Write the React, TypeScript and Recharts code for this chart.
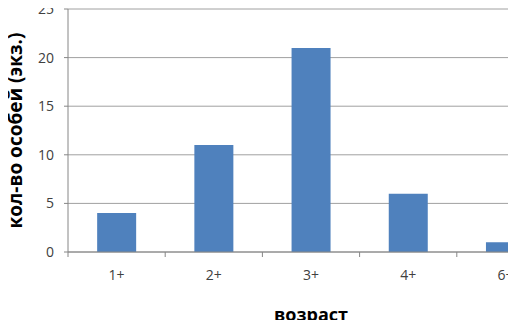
import React from 'react';
import {
  BarChart,
  Bar,
  XAxis,
  YAxis,
  CartesianGrid,
  Label,
} from 'recharts';

const ages = ['1+', '2+', '3+', '4+', '6+'];
const counts = [4, 11, 21, 6, 1];
const yTicks = [0, 5, 10, 15, 20, 25];

const data = ages.map((age, i) => ({ age, count: counts[i] }));

const font = '"Open Sans", "DejaVu Sans", sans-serif';

// category label plus a tick mark on the left boundary of its band (Excel style)
const AgeTick = (props: any) => {
  const { x, y, payload } = props;
  const half = payload.offset || 0;
  return (
    <g>
      <line x1={x - half} x2={x - half} y1={y} y2={y + 5} stroke="#868686" />
      <text
        x={x}
        y={y + 28}
        textAnchor="middle"
        fill="#404040"
        fontSize={14}
        fontFamily={font}
      >
        {payload.value}
      </text>
    </g>
  );
};

export default function App() {
  return (
    <div style={{ margin: -8, width: 516, height: 328, overflow: 'hidden', background: '#fff' }}>
      <BarChart
        width={560}
        height={328}
        data={data}
        margin={{ top: 9, right: 6, left: 0, bottom: 0 }}
        barCategoryGap="30%"
        style={{ fontFamily: font }}
      >
        <CartesianGrid vertical={false} stroke="#a0a0a0" />
        <XAxis
          dataKey="age"
          height={76}
          axisLine={{ stroke: '#868686' }}
          tickLine={false}
          tickSize={0}
          tickMargin={0}
          tick={<AgeTick />}
        >
          <Label
            value="возраст"
            position="insideBottom"
            offset={7}
            style={{ fontSize: 18, fontWeight: 'bold', fill: '#000' }}
          />
        </XAxis>
        <YAxis
          width={68}
          domain={[0, 25]}
          ticks={yTicks}
          axisLine={{ stroke: '#868686' }}
          tickLine={{ stroke: '#868686' }}
          tickSize={4}
          tickMargin={10}
          tick={{ fill: '#404040', fontSize: 14 }}
        >
          <Label
            value="кол-во особей (экз.)"
            position="center"
            angle={-90}
            dx={-19}
            style={{ fontSize: 19, fontWeight: 'bold', fill: '#000' }}
          />
        </YAxis>
        <Bar dataKey="count" fill="#4f81bd" isAnimationActive={false} />
      </BarChart>
    </div>
  );
}
